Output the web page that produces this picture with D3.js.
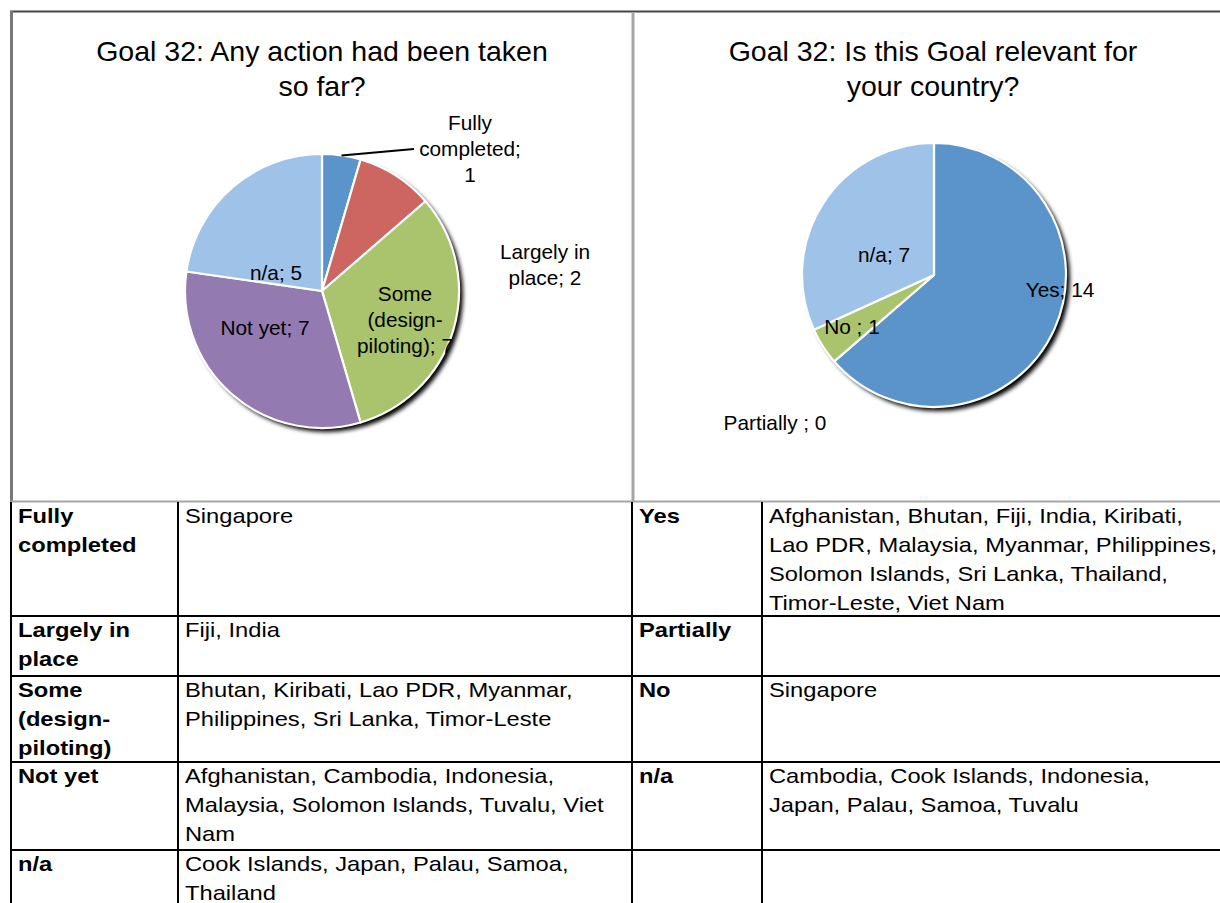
<!DOCTYPE html>
<html>
<head>
<meta charset="utf-8">
<script src="https://cdn.jsdelivr.net/npm/d3@7"></script>
<style>
  body { margin: 0; background: #fff; }
  text { font-family: "Liberation Sans", Arial, sans-serif; fill: #000; }
</style>
</head>
<body>
<div id="chart"></div>
<script>
// pie 1: any action taken so far
const actionCats = ["Fully completed", "Largely in place", "Some (design-piloting)", "Not yet", "n/a"];
const actionVals = [1, 2, 7, 7, 5];
const actionColors = ["#5b94cb", "#cd6660", "#a9c46c", "#937ab1", "#9fc2e8"];
const actionLabels = [["Fully", "completed;", "1"], ["Largely in", "place; 2"], ["Some", "(design-", "piloting); 7"], ["Not yet; 7"], ["n/a; 5"]];

// pie 2: is the goal relevant
const relevCats = ["Yes", "Partially", "No", "n/a"];
const relevVals = [14, 0, 1, 7];
const relevColors = ["#5b94cb", "#cd6660", "#a9c46c", "#9fc2e8"];
const relevLabels = [["Yes; 14"], ["Partially ; 0"], ["No ; 1"], ["n/a; 7"]];

// table below the charts
const leftHeads = [["Fully", "completed"], ["Largely in", "place"], ["Some", "(design-", "piloting)"], ["Not yet"], ["n/a"]];
const leftCountries = [
  ["Singapore"],
  ["Fiji, India"],
  ["Bhutan, Kiribati, Lao PDR, Myanmar,", "Philippines, Sri Lanka, Timor-Leste"],
  ["Afghanistan, Cambodia, Indonesia,", "Malaysia, Solomon Islands, Tuvalu, Viet", "Nam"],
  ["Cook Islands, Japan, Palau, Samoa,", "Thailand"]
];
const rightHeads = [["Yes"], ["Partially"], ["No"], ["n/a"], []];
const rightCountries = [
  ["Afghanistan, Bhutan, Fiji, India, Kiribati,", "Lao PDR, Malaysia, Myanmar, Philippines,", "Solomon Islands, Sri Lanka, Thailand,", "Timor-Leste, Viet Nam"],
  [],
  ["Singapore"],
  ["Cambodia, Cook Islands, Indonesia,", "Japan, Palau, Samoa, Tuvalu"],
  []
];

const W = 1220, H = 903;
const svg = d3.select("#chart").append("svg")
  .attr("width", W).attr("height", H);

// drop shadow for the pies
const defs = svg.append("defs");
const f = defs.append("filter").attr("id", "shadow")
  .attr("x", "-20%").attr("y", "-20%").attr("width", "140%").attr("height", "140%");
f.append("feGaussianBlur").attr("in", "SourceAlpha").attr("stdDeviation", 2).attr("result", "b");
f.append("feOffset").attr("in", "b").attr("dx", 4).attr("dy", 4).attr("result", "o");
const fm = f.append("feMerge");
fm.append("feMergeNode").attr("in", "o");
fm.append("feMergeNode").attr("in", "SourceGraphic");

// frame around the two charts
const frameTop = 11, frameBottom = 501, midX = 633;
svg.append("line").attr("x1", 10).attr("x2", W).attr("y1", frameTop + 0.5).attr("y2", frameTop + 0.5)
  .attr("stroke", "#444").attr("stroke-width", 2);
svg.append("line").attr("x1", 11.5).attr("x2", 11.5).attr("y1", frameTop).attr("y2", frameBottom)
  .attr("stroke", "#777").attr("stroke-width", 3);
svg.append("line").attr("x1", midX).attr("x2", midX).attr("y1", frameTop + 1).attr("y2", frameBottom)
  .attr("stroke", "#a6a6a6").attr("stroke-width", 3);
svg.append("line").attr("x1", 10).attr("x2", W).attr("y1", frameBottom + 0.5).attr("y2", frameBottom + 0.5)
  .attr("stroke", "#a6a6a6").attr("stroke-width", 2);

// multi-line text, optionally stretched horizontally
function textBlock(parent, x, y, lines, size, lh, opts) {
  const o = opts || {};
  const sx = o.sx || 1;
  const t = parent.append("text")
    .attr("text-anchor", o.anchor || "start")
    .attr("transform", sx !== 1 ? `scale(${sx},1)` : null)
    .style("font-size", size + "px")
    .style("font-weight", o.bold ? "bold" : "normal");
  lines.forEach((l, i) => t.append("tspan").attr("x", x / sx).attr("y", y + i * lh).text(l));
  return t;
}

textBlock(svg, 322, 61, ["Goal 32: Any action had been taken", "so far?"], 28.5, 35, { anchor: "middle" });
textBlock(svg, 933, 61, ["Goal 32: Is this Goal relevant for", "your country?"], 28.5, 35, { anchor: "middle" });

function drawPie(cx, cy, r, vals, colors) {
  const g = svg.append("g").attr("transform", `translate(${cx},${cy})`);
  const pie = d3.pie().sort(null).value(d => d)(vals);
  const arc = d3.arc().innerRadius(0).outerRadius(r);
  g.append("circle").attr("r", r).attr("fill", "#fff").attr("filter", "url(#shadow)");
  g.selectAll("path").data(pie.filter(d => d.value > 0)).join("path")
    .attr("d", arc)
    .attr("fill", d => colors[d.index])
    .attr("stroke", "#fff").attr("stroke-width", 2.2).attr("stroke-linejoin", "round");
  return { g, pie, arc };
}

// left pie
const p1 = drawPie(322, 291, 137, actionVals, actionColors);
const lab1 = [[148, -161], [223, -32], [83, 10], [-57, 44], [-46, -11]];
actionLabels.forEach((l, i) => textBlock(p1.g, lab1[i][0], lab1[i][1], l, 20.8, 26, { anchor: "middle" }));
// leader line for the small slice
const a0 = p1.pie[0];
const mid0 = (a0.startAngle + a0.endAngle) / 2;
p1.g.append("polyline")
  .attr("points", [[Math.sin(mid0) * 137, -Math.cos(mid0) * 137], [92, -142]].join(" "))
  .attr("fill", "none").attr("stroke", "#000").attr("stroke-width", 2);

// right pie
const p2 = drawPie(934, 275, 132, relevVals, relevColors);
const lab2 = [[126, 22], [-159, 155], [-82, 59], [-50, -13]];
relevLabels.forEach((l, i) => textBlock(p2.g, lab2[i][0], lab2[i][1], l, 20.8, 26, { anchor: "middle" }));

// table
const rowY = [502, 616, 676, 762, 850, 960];
const colX = [11, 178, 632, 762, W + 10];
const tbl = svg.append("g");
rowY.slice(1, -1).forEach(y => tbl.append("line")
  .attr("x1", colX[0]).attr("x2", W).attr("y1", y).attr("y2", y)
  .attr("stroke", "#000").attr("stroke-width", 2));
colX.slice(0, 4).forEach(x => tbl.append("line")
  .attr("x1", x).attr("x2", x).attr("y1", frameBottom + 1).attr("y2", H)
  .attr("stroke", "#000").attr("stroke-width", 2));

const tSize = 21, tStretch = 1.13;
leftHeads.forEach((h, i) => {
  const y = rowY[i] + 21;
  textBlock(tbl, colX[0] + 7, y, h, tSize, 29, { bold: true, sx: tStretch });
  textBlock(tbl, colX[1] + 7, y, leftCountries[i], tSize, 29, { sx: tStretch });
  textBlock(tbl, colX[2] + 7, y, rightHeads[i], tSize, 29, { bold: true, sx: tStretch });
  textBlock(tbl, colX[3] + 7, y, rightCountries[i], tSize, 29, { sx: tStretch });
});
</script>
</body>
</html>
